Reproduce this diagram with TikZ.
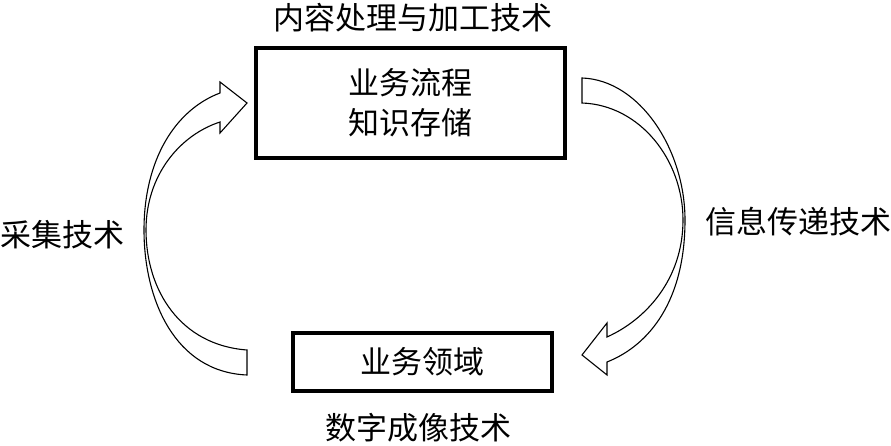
\documentclass[tikz,border=0pt]{standalone}
\usepackage{fontspec}
\setmainfont{Noto Sans CJK SC}
\usetikzlibrary{positioning}
\definecolor{inkblack}{HTML}{000000}
\tikzset{
  bigbox/.style={draw=inkblack, line width=3.5pt, inner sep=0pt, align=center, font=\fontsize{31}{40}\selectfont},
  techlbl/.style={font=\fontsize{31}{40}\selectfont, inner sep=0pt, text=inkblack},
  curvedarrow/.style={draw=inkblack, fill=white, line width=1.1pt, line join=miter},
}
\begin{document}
\begin{tikzpicture}[x=1pt,y=-1pt]
  \useasboundingbox (0,0) rectangle (891,446);
  % the two boxes
  \node[bigbox, minimum width=309pt, minimum height=110pt] (proc) at (410.5,103) {业务流程\\知识存储};
  \node[bigbox, minimum width=259pt, minimum height=58pt] (dom) at (422.5,362) {业务领域};
  % labels
  \node[techlbl] (ttop) at (413,18) {内容处理与加工技术};
  \node[techlbl] (tbot) at (418,428) {数字成像技术};
  \node[techlbl] (tleft) at (62,235) {采集技术};
  \node[techlbl] (tright) at (798,222) {信息传递技术};
  % left curved arrow, up
  \draw[curvedarrow] (247,375) -- (247,350)
    .. controls (180,345) and (146,290) .. (146,230)
    .. controls (146,175) and (180,135) .. (220,122)
    -- (220,133) -- (247,103) -- (220,82) -- (220,93)
    .. controls (175,110) and (144,160) .. (144,230)
    .. controls (144,300) and (175,372) .. cycle;
  % right curved arrow, down
  \draw[curvedarrow] (582,78)
    .. controls (640,80) and (685,150) .. (685,220)
    .. controls (685,300) and (650,345) .. (607,362)
    -- (607,375) -- (582,355) -- (607,323) -- (607,337)
    .. controls (645,320) and (683,280) .. (683,220)
    .. controls (683,160) and (640,105) .. (582,103) -- cycle;
\end{tikzpicture}
\end{document}
